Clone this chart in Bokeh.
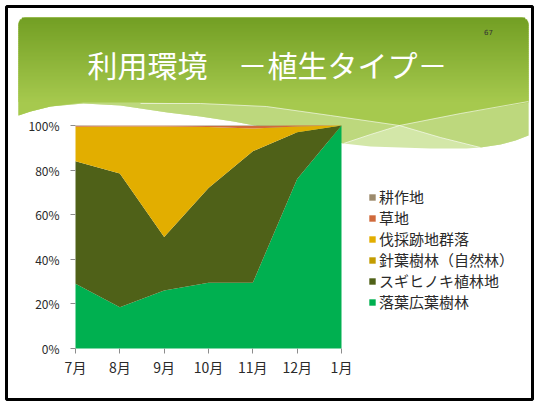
import numpy as np
from bokeh.plotting import figure
from bokeh.models import (Range1d, LinearAxis, FixedTicker, NumeralTickFormatter,
                          ColumnDataSource, Legend, LegendItem, Label)
from bokeh.embed import file_html
from bokeh.resources import INLINE

# ---------------- data ----------------
months = ["7月", "8月", "9月", "10月", "11月", "12月", "1月"]
deciduous = [0.29, 0.185, 0.26, 0.295, 0.295, 0.76, 1.0]      # 落葉広葉樹林
sugi_hinoki = [0.55, 0.60, 0.24, 0.425, 0.59, 0.21, 0.0]       # スギヒノキ植林地
conifer = [0.0, 0.0, 0.0, 0.0, 0.0, 0.0, 0.0]                  # 針葉樹林（自然林）
logged = [0.154, 0.21, 0.496, 0.273, 0.101, 0.025, 0.0]        # 伐採跡地群落
grassland = [0.004, 0.004, 0.003, 0.005, 0.012, 0.005, 0.0]    # 草地
cropland = [0.002, 0.001, 0.001, 0.002, 0.002, 0.0, 0.0]       # 耕作地

series_keys = ["deciduous", "sugi", "conifer", "logged", "grass", "crop"]
series_names = ["落葉広葉樹林", "スギヒノキ植林地", "針葉樹林（自然林）",
                "伐採跡地群落", "草地", "耕作地"]
series_colors = ["#00B050", "#4F6118", "#C39C00", "#E2AE00", "#D06A3C", "#9C8A6C"]
y_ticks = [0, 0.2, 0.4, 0.6, 0.8, 1.0]

title_text = "利用環境　－植生タイプ－"
page_no = "67"

# ---------------- page geometry ----------------
W, H = 534, 401
OX, OY = 0, 0


def px(xs):
    return xs - OX


def py(ys):
    return OY + H - ys


FONT = "Noto Sans CJK JP"

p = figure(width=W, height=H, output_backend="svg", toolbar_location=None,
           x_range=Range1d(0, W), y_range=Range1d(0, H),
           x_axis_type=None, y_axis_type=None, min_border=0,
           background_fill_color="white", border_fill_color="white",
           outline_line_color=None)

# slide frame
p.quad(left=px(6), right=px(532), top=py(6), bottom=py(399), fill_color=None,
       line_color="black", line_width=3)

# ---------------- header decoration ----------------
R = 7
TOP, LEFT, RIGHT = 17, 18, 528


def rounded_top(left, right, top, r=R, n=8):
    xs, ys = [], []
    for t in np.linspace(np.pi, np.pi / 2, n):
        xs.append(left + r + r * np.cos(t)); ys.append(top + r - r * np.sin(t))
    for t in np.linspace(np.pi / 2, 0, n):
        xs.append(right - r + r * np.cos(t)); ys.append(top + r - r * np.sin(t))
    return xs, ys


tx, ty = rounded_top(LEFT, RIGHT, TOP)

bottom_curve = [(528, 135), (515, 140), (500, 144), (480, 147), (466, 148), (430, 148),
                (400, 147), (370, 146), (343, 143), (300, 134), (260, 126), (233, 121),
                (200, 116), (167, 112), (120, 105), (83, 103), (50, 106), (30, 111), (18, 115)]
base_x = tx + [c[0] for c in bottom_curve]
base_y = ty + [c[1] for c in bottom_curve]
p.patch([px(v) for v in base_x], [py(v) for v in base_y], fill_color="#D3E7A8", line_color=None)

light_bottom = [(528, 135), (515, 140), (500, 144), (480, 147), (440, 137), (399, 125),
                (370, 134), (343, 143), (300, 134), (260, 126), (233, 121), (200, 116),
                (167, 112), (120, 105), (83, 103), (50, 106), (30, 111), (18, 115)]
lx = tx + [c[0] for c in light_bottom]
ly = ty + [c[1] for c in light_bottom]
p.patch([px(v) for v in lx], [py(v) for v in ly], fill_color="#BDD87D", line_color=None)

c_top = np.array([0x73, 0x9F, 0x24])
c_bot = np.array([0xA6, 0xC9, 0x4E])
mid_bottom = [(528, 102), (460, 113), (399, 125), (330, 115), (266, 106), (200, 103),
              (140, 102), (110, 102), (83, 102), (50, 106), (30, 111), (18, 115)]
mx = tx + [c[0] for c in mid_bottom]
my = ty + [c[1] for c in mid_bottom]
cb = "#%02X%02X%02X" % tuple(int(v) for v in c_bot)
p.patch([px(v) for v in mx], [py(v) for v in my], fill_color=cb, line_color=None)

strip_y = np.arange(TOP, 101, 2)
lefts, rights, tops, bots, cols = [], [], [], [], []
for y0 in strip_y:
    yc = y0 + 1
    inset = 0.0
    if yc < TOP + R:
        d = (TOP + R) - yc
        inset = R - np.sqrt(max(R * R - d * d, 0))
    f = (y0 - TOP) / (101 - TOP)
    c = c_top + (c_bot - c_top) * f
    cols.append("#%02X%02X%02X" % tuple(int(round(v)) for v in c))
    lefts.append(px(LEFT + inset)); rights.append(px(RIGHT - inset))
    tops.append(py(y0)); bots.append(py(y0 + 2.6))
p.quad(left=lefts, right=rights, top=tops, bottom=bots, fill_color=cols, line_color=None)

# pale crossing lines
p.line([px(v) for v in (140, 200, 266, 330, 399, 440, 480)],
       [py(v) for v in (103, 103, 106, 115, 125, 137, 147)],
       line_color="white", line_alpha=0.6, line_width=1)
p.line([px(v) for v in (343, 370, 399, 460, 528)],
       [py(v) for v in (143, 134, 125, 113, 101)],
       line_color="white", line_alpha=0.6, line_width=1)

p.add_layout(Label(x=px(267), y=py(63), text=title_text, text_align="center",
                   text_baseline="middle", text_color="white", text_font=FONT,
                   text_font_size="30px"))
p.add_layout(Label(x=px(488), y=py(31), text=page_no, text_align="center",
                   text_baseline="middle", text_color="#333333", text_font="DejaVu Sans",
                   text_font_size="7px"))

# ---------------- chart (through own scales) ----------------
X0, X6 = 75, 341        # page x of first / last month
Y0, Y1 = 348, 125       # page y of 0% / 100%
sx = (X6 - X0) / (len(months) - 1)
sy = (Y0 - Y1)
p.extra_x_ranges = {"cx": Range1d(start=-(X0 - OX) / sx, end=(W - (X0 - OX)) / sx)}
p.extra_y_ranges = {"cy": Range1d(start=-(OY + H - Y0) / sy, end=(H - (OY + H - Y0)) / sy)}

src = ColumnDataSource(dict(x=list(range(len(months))), deciduous=deciduous, sugi=sugi_hinoki,
                            conifer=conifer, logged=logged, grass=grassland, crop=cropland))
rends = p.varea_stack(stackers=series_keys, x="x", color=series_colors, source=src,
                      x_range_name="cx", y_range_name="cy")

yaxis = LinearAxis(x_range_name="cx", y_range_name="cy", fixed_location=0, bounds=(0, 1),
                   ticker=FixedTicker(ticks=y_ticks),
                   formatter=NumeralTickFormatter(format="0%"))
xaxis = LinearAxis(x_range_name="cx", y_range_name="cy", fixed_location=0,
                   bounds=(0, len(months) - 1),
                   ticker=FixedTicker(ticks=list(range(len(months)))),
                   major_label_overrides={i: m for i, m in enumerate(months)})
for ax in (yaxis, xaxis):
    ax.axis_line_color = None
    ax.major_tick_line_color = "#8C8C8C"
    ax.major_tick_in = 0
    ax.major_tick_out = 5
    ax.minor_tick_line_color = None
    ax.major_label_text_font = FONT
    ax.major_label_text_color = "#2A2A2A"
yaxis.major_label_text_font_size = "12px"
xaxis.major_label_text_font_size = "14px"
yaxis.major_label_standoff = 11
xaxis.major_label_standoff = 3
p.add_layout(yaxis, "left")
p.add_layout(xaxis, "below")

items = [LegendItem(label=n, renderers=[r]) for n, r in zip(series_names, rends)][::-1]
legend = Legend(items=items, location=(px(368), H - 312), padding=0, margin=0, spacing=0,
                glyph_width=8, glyph_height=8, label_height=20, label_standoff=3,
                label_text_font=FONT, label_text_font_size="15px",
                label_text_color="#2A2A2A", background_fill_alpha=0,
                border_line_alpha=0)
p.add_layout(legend)

open("out.html", "w").write(file_html(p, INLINE))
